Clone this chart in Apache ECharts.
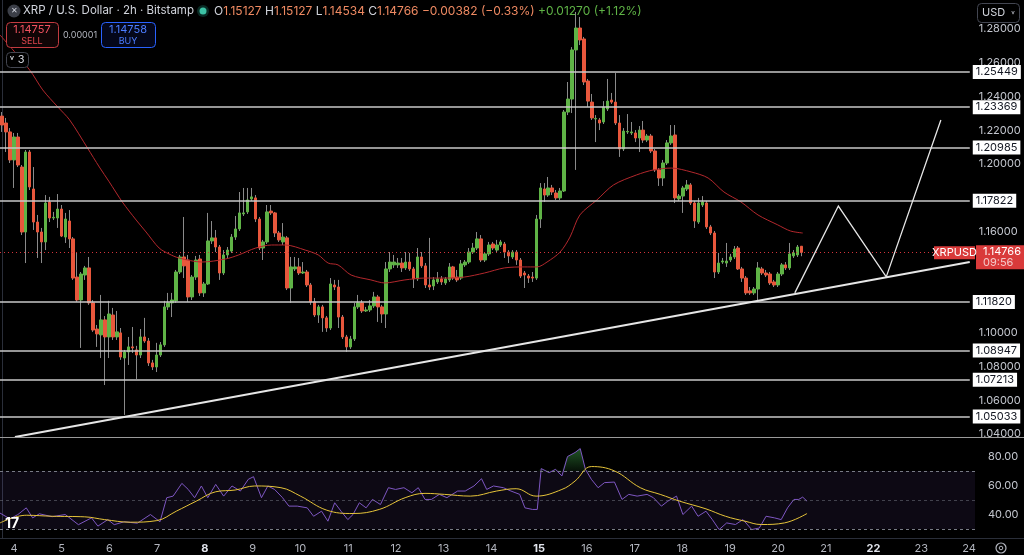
<!DOCTYPE html>
<html>
<head>
<meta charset="utf-8">
<title>XRP / U.S. Dollar 2h</title>
<script src="https://cdn.jsdelivr.net/npm/echarts@6/dist/echarts.min.js"></script>
<style>
  html, body { margin: 0; padding: 0; background: #000; }
  #chart { width: 1024px; height: 555px; }
</style>
</head>
<body>
<div id="chart"></div>
<script>
// 2h candles: [open, close, low, high]
const candles = [
  [1.2284,1.2231,1.2190,1.2308],[1.2243,1.2190,1.2071,1.2273],[1.2190,1.2024,1.2006,1.2213],[1.2024,1.2160,1.1858,1.2184],
  [1.2160,1.1994,1.1982,1.2184],[1.1982,1.1597,1.1579,1.1994],[1.1597,1.2071,1.1413,1.2083],[1.2071,1.1864,1.1846,1.2083],
  [1.1852,1.1656,1.1609,1.1982],[1.1656,1.1597,1.1443,1.1698],[1.1597,1.1538,1.1413,1.1621],[1.1538,1.1769,1.1490,1.1816],
  [1.1775,1.1680,1.1656,1.1805],[1.1680,1.1684,1.1668,1.1716],[1.1680,1.1733,1.1621,1.1822],[1.1733,1.1573,1.1567,1.1757],
  [1.1567,1.1674,1.1532,1.1710],[1.1662,1.1556,1.1502,1.1727],[1.1556,1.1324,1.1313,1.1567],[1.1330,1.1194,1.1183,1.1473],
  [1.1194,1.1348,1.0910,1.1360],[1.1342,1.1384,1.1313,1.1396],[1.1384,1.1177,1.1165,1.1449],[1.1177,1.1016,1.1005,1.1194],
  [1.1022,1.0993,1.0916,1.1046],[1.0987,1.1076,1.0850,1.1224],[1.1076,1.0975,1.0690,1.1099],[1.0975,1.1111,1.0850,1.1189],
  [1.1105,1.0975,1.0957,1.1147],[1.0975,1.1005,1.0957,1.1129],[1.0999,1.0856,1.0839,1.1028],[1.0850,1.0886,1.0513,1.0898],
  [1.0886,1.0916,1.0809,1.0975],[1.0916,1.0910,1.0880,1.1034],[1.0898,1.0868,1.0726,1.0922],[1.0868,1.0975,1.0850,1.1022],
  [1.0975,1.0951,1.0940,1.1088],[1.0951,1.0821,1.0803,1.0969],[1.0821,1.0797,1.0779,1.0839],[1.0797,1.0868,1.0767,1.0940],
  [1.0868,1.0928,1.0856,1.0945],[1.0928,1.1153,1.0916,1.1189],[1.1153,1.1177,1.1135,1.1236],[1.1177,1.1194,1.1093,1.1236],
  [1.1189,1.1360,1.1177,1.1372],[1.1360,1.1449,1.1348,1.1461],[1.1449,1.1396,1.1324,1.1686],[1.1431,1.1212,1.1183,1.1461],
  [1.1212,1.1330,1.1194,1.1342],[1.1330,1.1431,1.1313,1.1455],[1.1437,1.1236,1.1218,1.1461],[1.1236,1.1289,1.1212,1.1301],
  [1.1289,1.1544,1.1283,1.1710],[1.1544,1.1562,1.1526,1.1662],[1.1562,1.1508,1.1478,1.1609],[1.1508,1.1354,1.1313,1.1520],
  [1.1354,1.1461,1.1342,1.1490],[1.1461,1.1490,1.1443,1.1508],[1.1484,1.1567,1.1473,1.1585],[1.1567,1.1615,1.1550,1.1692],
  [1.1615,1.1710,1.1603,1.1834],[1.1704,1.1710,1.1692,1.1858],[1.1716,1.1787,1.1704,1.1858],[1.1793,1.1805,1.1781,1.1858],
  [1.1799,1.1674,1.1656,1.1816],[1.1674,1.1502,1.1490,1.1686],[1.1502,1.1538,1.1431,1.1550],[1.1538,1.1716,1.1526,1.1757],
  [1.1721,1.1710,1.1698,1.1757],[1.1710,1.1591,1.1567,1.1716],[1.1591,1.1550,1.1538,1.1603],[1.1538,1.1567,1.1520,1.1650],
  [1.1562,1.1265,1.1253,1.1573],[1.1265,1.1390,1.1177,1.1449],[1.1378,1.1390,1.1366,1.1449],[1.1390,1.1354,1.1342,1.1443],
  [1.1354,1.1360,1.1348,1.1419],[1.1360,1.1283,1.1271,1.1372],[1.1283,1.1183,1.1165,1.1295],[1.1183,1.1105,1.1093,1.1206],
  [1.1105,1.1153,1.1058,1.1165],[1.1153,1.1088,1.1005,1.1165],[1.1088,1.1028,1.1005,1.1099],[1.1028,1.1289,1.1016,1.1324],
  [1.1283,1.1271,1.1253,1.1313],[1.1271,1.1093,1.1028,1.1313],[1.1093,1.0975,1.0963,1.1105],[1.0975,1.0916,1.0886,1.0987],
  [1.0916,1.0963,1.0904,1.0981],[1.0963,1.1153,1.0951,1.1177],[1.1153,1.1177,1.1141,1.1224],[1.1177,1.1129,1.1117,1.1194],
  [1.1129,1.1135,1.1123,1.1153],[1.1135,1.1159,1.1123,1.1194],[1.1159,1.1212,1.1147,1.1242],[1.1212,1.1153,1.1064,1.1224],
  [1.1153,1.1111,1.1058,1.1165],[1.1111,1.1378,1.1028,1.1419],[1.1378,1.1419,1.1360,1.1478],[1.1402,1.1419,1.1384,1.1461],
  [1.1402,1.1413,1.1384,1.1443],[1.1413,1.1384,1.1360,1.1443],[1.1384,1.1419,1.1372,1.1478],[1.1419,1.1378,1.1366,1.1473],
  [1.1378,1.1319,1.1265,1.1390],[1.1319,1.1449,1.1307,1.1502],[1.1449,1.1396,1.1384,1.1478],[1.1396,1.1283,1.1265,1.1413],
  [1.1283,1.1271,1.1253,1.1562],[1.1277,1.1313,1.1253,1.1330],[1.1301,1.1319,1.1289,1.1360],[1.1319,1.1301,1.1283,1.1336],
  [1.1295,1.1319,1.1283,1.1330],[1.1313,1.1390,1.1301,1.1413],[1.1390,1.1324,1.1313,1.1396],[1.1330,1.1313,1.1301,1.1372],
  [1.1324,1.1408,1.1313,1.1431],[1.1402,1.1419,1.1390,1.1431],[1.1419,1.1478,1.1408,1.1502],[1.1478,1.1502,1.1467,1.1532],
  [1.1502,1.1556,1.1490,1.1597],[1.1556,1.1431,1.1419,1.1579],[1.1431,1.1467,1.1419,1.1478],[1.1467,1.1520,1.1455,1.1538],
  [1.1526,1.1502,1.1490,1.1538],[1.1490,1.1520,1.1478,1.1550],[1.1520,1.1538,1.1508,1.1550],[1.1526,1.1478,1.1443,1.1538],
  [1.1478,1.1455,1.1413,1.1490],[1.1449,1.1478,1.1437,1.1490],[1.1478,1.1431,1.1402,1.1490],[1.1431,1.1336,1.1324,1.1443],
  [1.1354,1.1342,1.1265,1.1366],[1.1336,1.1324,1.1295,1.1348],[1.1330,1.1324,1.1301,1.1360],[1.1324,1.1674,1.1313,1.1698],
  [1.1674,1.1858,1.1621,1.1887],[1.1852,1.1816,1.1775,1.1887],[1.1816,1.1858,1.1805,1.1923],[1.1858,1.1834,1.1816,1.1876],
  [1.1828,1.1799,1.1787,1.1846],[1.1799,1.1840,1.1787,1.1858],[1.1840,1.2308,1.1834,1.2320],[1.2308,1.2385,1.2290,1.2486],
  [1.2385,1.2676,1.2302,1.2693],[1.2676,1.2806,1.1965,1.2901],[1.2806,1.2735,1.2705,1.2871],[1.2741,1.2486,1.2468,1.2753],
  [1.2492,1.2373,1.2338,1.2504],[1.2367,1.2273,1.2261,1.2415],[1.2267,1.2270,1.2130,1.2290],[1.2261,1.2243,1.2201,1.2273],
  [1.2249,1.2338,1.2237,1.2373],[1.2326,1.2373,1.2314,1.2504],[1.2379,1.2367,1.2356,1.2421],[1.2367,1.2243,1.2231,1.2539],
  [1.2243,1.2089,1.2042,1.2290],[1.2089,1.2195,1.2077,1.2213],[1.2190,1.2193,1.2178,1.2296],[1.2184,1.2190,1.2172,1.2249],
  [1.2184,1.2154,1.2130,1.2201],[1.2154,1.2201,1.2071,1.2225],[1.2201,1.2142,1.2125,1.2255],[1.2142,1.2166,1.2130,1.2178],
  [1.2166,1.2077,1.2065,1.2178],[1.2077,1.1965,1.1953,1.2089],[1.1965,1.1917,1.1870,1.1976],[1.1917,1.2006,1.1870,1.2024],
  [1.2006,1.2125,1.1994,1.2142],[1.2125,1.2166,1.2113,1.2231],[1.2172,1.1799,1.1769,1.2231],[1.1793,1.1810,1.1781,1.1822],
  [1.1810,1.1858,1.1710,1.1870],[1.1852,1.1876,1.1840,1.1905],[1.1876,1.1769,1.1757,1.1887],[1.1769,1.1662,1.1621,1.1781],
  [1.1656,1.1769,1.1645,1.1799],[1.1757,1.1775,1.1745,1.1810],[1.1769,1.1627,1.1615,1.1781],[1.1627,1.1591,1.1579,1.1639],
  [1.1591,1.1360,1.1324,1.1603],[1.1360,1.1413,1.1348,1.1473],[1.1419,1.1425,1.1408,1.1443],[1.1413,1.1425,1.1390,1.1532],
  [1.1431,1.1449,1.1419,1.1467],[1.1449,1.1496,1.1437,1.1514],[1.1502,1.1378,1.1372,1.1514],[1.1378,1.1324,1.1301,1.1390],
  [1.1324,1.1236,1.1224,1.1336],[1.1248,1.1236,1.1224,1.1271],[1.1236,1.1259,1.1224,1.1271],[1.1259,1.1384,1.1183,1.1419],
  [1.1378,1.1354,1.1342,1.1390],[1.1354,1.1342,1.1330,1.1372],[1.1348,1.1295,1.1283,1.1360],[1.1301,1.1283,1.1271,1.1313],
  [1.1283,1.1348,1.1271,1.1360],[1.1348,1.1402,1.1336,1.1413],[1.1402,1.1384,1.1372,1.1419],[1.1384,1.1467,1.1372,1.1532],
  [1.1455,1.1473,1.1443,1.1490],[1.1461,1.1508,1.1449,1.1520],[1.15127,1.14766,1.14534,1.15127]
]

// moving average on price: [bar index, value]
const maLine = [
  [-0.5,1.2765],[7.0,1.2557],[10.3,1.2439],[14.1,1.2338],[17.1,1.2261],[21.6,1.2095],[24.6,1.1982],[27.1,1.1894],
  [30.4,1.1775],[33.9,1.1668],[36.4,1.1597],[39.7,1.1502],[42.2,1.1467],[44.7,1.1443],[50.5,1.1419],[56.5,1.1437],
  [59.8,1.1461],[64.1,1.1502],[68.1,1.1520],[71.6,1.1520],[76.6,1.1490],[79.9,1.1461],[82.4,1.1413],[84.9,1.1402],
  [88.2,1.1342],[93.2,1.1313],[96.7,1.1295],[101.8,1.1313],[106.8,1.1324],[111.8,1.1324],[116.8,1.1330],[121.9,1.1354],
  [126.9,1.1384],[131.9,1.1390],[135.2,1.1390],[137.7,1.1419],[141.0,1.1478],[143.5,1.1567],[146.0,1.1698],[150.3,1.1787],
  [154.5,1.1876],[160.3,1.1935],[164.6,1.1965],[169.1,1.1976],[174.1,1.1953],[178.4,1.1917],[182.4,1.1834],[186.7,1.1775],
  [191.0,1.1698],[196.0,1.1639],[199.2,1.1603],[202.3,1.1591]
]

// RSI and its moving average: [bar index, value]
const rsi = [
  [-0.5,41],[2,37],[4,40],[6.1,44.6],[7.7,37.7],[9.4,40.5],[12.6,38.5],[15.9,40],[19.2,33],[22.5,37.7],[24.1,32],
  [26.6,36.5],[28.2,33],[30.7,35],[34.0,34],[37.3,40],[39.7,35],[41.4,51.6],[43.0,52.7],[45.2,61.5],[46.8,57.3],
  [48.4,51.6],[50.1,59.7],[51.7,51.6],[53.7,60.8],[55.7,52.7],[57.8,59.7],[59.9,56.2],[61.9,64.3],[63.2,66.1],
  [65.2,51.6],[66.8,59.7],[68.5,57.3],[70.5,51.6],[72.1,45.8],[74.2,45.8],[76.7,44.6],[78.3,38.8],[80.3,42.3],
  [81.9,35.4],[83.6,48.1],[85.2,42.3],[86.9,36.5],[88.2,40],[89.8,48.1],[91.5,44.6],[93.1,50.4],[95.1,46.9],
  [97.1,58.5],[98.9,57.3],[101.0,58.5],[103.0,55],[104.6,58.5],[106.3,50.4],[107.9,50.4],[109.9,53.9],[111.8,51.6],
  [114.5,56.2],[116.4,56.2],[118.6,59.7],[120.5,64.7],[121.8,57.3],[123.5,59.7],[126.0,58.5],[127.9,56.2],[130.1,53.9],
  [131.4,44.6],[133.3,43.5],[134.5,43.5],[135.5,71.7],[137.5,68.9],[139.1,71.2],[140.7,66.6],[142.1,80],[144.0,82.8],
  [145.3,85.5],[146.6,71.2],[148.1,64.3],[149.8,58.5],[151.4,62],[153.9,62.4],[155.8,50.4],[157.5,53.9],[159.6,52.7],
  [162.1,53.9],[163.7,51.6],[165.7,45.8],[167.3,49.2],[169.5,52.7],[171.1,40],[173.3,45.8],[174.9,38.8],[176.9,42.3],
  [178.5,36.5],[180.2,29.6],[182.1,34.2],[184.3,33.1],[186.2,36.5],[188.4,29.6],[190.3,30.7],[192.0,38.8],[194.1,37.7],
  [195.8,36.5],[197.4,44.6],[199.0,50.4],[200.2,50.4],[201.2,52],[202.3,49.2]
]
const rsiMa = [
  [-0.5,34.2],[6.1,39.5],[12.6,38.8],[20.8,38.4],[25.8,36.5],[32.3,34.7],[38.9,35.8],[43.8,42.3],[48.8,49.2],
  [53.7,55.7],[58.6,56.9],[63.5,59.7],[70.1,58.5],[75.0,52.7],[81.6,43],[88.2,40.7],[94.8,43.5],[101.3,51.6],
  [106.3,54.6],[111.2,53.9],[117.7,52.7],[124.3,56.2],[129.2,57.8],[134.2,52.7],[140.7,57.3],[144.0,63.1],
  [148.1,73.1],[153.9,70.1],[160.4,58.5],[165.4,53.9],[170.3,49.2],[176.9,43.9],[181.8,38.8],[186.7,35.4],
  [190.8,33.1],[196.6,34.2],[202.3,40.7]
]

const levels = [1.25449, 1.23369, 1.20985, 1.17822, 1.11820, 1.08947, 1.07213, 1.05033]
const lastPrice = 1.14766
// 1.12, 1.14 and 1.18 are hidden behind the level and price tags in the picture
const priceTicks = [1.04, 1.06, 1.08, 1.10, 1.16, 1.20, 1.22, 1.24, 1.26, 1.28]
const rsiTicks = [40, 60, 80]
const days = [4, 5, 6, 7, 8, 9, 10, 11, 12, 13, 14, 15, 16, 17, 18, 19, 20, 21, 22, 23, 24]
const boldDays = [8, 15, 22]
const trendLine = [[3.27, 1.0382], [244.5, 1.1419]]
const projection = [[200.3, 1.1236], [211.3, 1.1751], [223.4, 1.1331], [237.2, 1.2261]]

const SLOTS = 245
const FONT = 'Inter, Roboto, sans-serif'
const UP = '#5fb346'
const DOWN = '#e8573c'

let slots = []
for (let i = 0; i < SLOTS; i++) slots.push(i)
let dayIdx = days.map(d => 3 + (d - 4) * 12)
let bodies = candles.map(c => [c[0], c[1], Math.min(c[0], c[1]), Math.max(c[0], c[1])])
let obFill = rsi.map(p => [p[0], Math.max(p[1], 70)])

let myChart = echarts.init(document.getElementById('chart'))
myChart.setOption({
    animation: false,
    backgroundColor: '#000',
    textStyle: { fontFamily: FONT },
    grid: [
        { left: 0, top: 0, width: 975, height: 437 },
        { left: 0, top: 438, width: 975, height: 100 }
    ],
    xAxis: [
        { type: 'category', gridIndex: 0, data: slots, show: false },
        { type: 'value', gridIndex: 0, min: -0.5, max: SLOTS - 0.5, show: false },
        {
            type: 'value', gridIndex: 1, min: -0.5, max: SLOTS - 0.5,
            axisLine: { show: false }, axisTick: { show: false }, splitLine: { show: false },
            axisLabel: {
                customValues: dayIdx,
                margin: 5,
                fontSize: 11,
                color: '#b2b5be',
                formatter: v => {
                    let d = Math.round(4 + (v - 3) / 12)
                    return boldDays.indexOf(d) >= 0 ? '{b|' + d + '}' : String(d)
                },
                rich: { b: { fontWeight: 'bold', color: '#e0e3eb', fontSize: 11 } }
            }
        }
    ],
    yAxis: [
        {
            type: 'value', gridIndex: 0, position: 'right', min: 1.0382, max: 1.2972,
            splitLine: { show: false }, axisTick: { show: false },
            axisLine: { show: true, lineStyle: { color: '#2a2e39' } },
            axisLabel: { customValues: priceTicks, formatter: v => v.toFixed(5), color: '#c3c6ce', fontSize: 11, margin: 9 }
        },
        {
            type: 'value', gridIndex: 1, position: 'right', min: 23.8, max: 92.8,
            splitLine: { show: false }, axisTick: { show: false },
            axisLine: { show: true, lineStyle: { color: '#2a2e39' } },
            axisLabel: { customValues: rsiTicks, formatter: v => v.toFixed(2), color: '#c3c6ce', fontSize: 11, margin: 13 }
        }
    ],
    series: [
        {
            // wicks
            type: 'candlestick', xAxisIndex: 0, yAxisIndex: 0, barWidth: 1, data: candles,
            itemStyle: { color: '#8a8a8a', color0: '#8a8a8a', borderColor: '#8a8a8a', borderColor0: '#8a8a8a', borderWidth: 1 }
        },
        {
            // bodies
            type: 'candlestick', xAxisIndex: 0, yAxisIndex: 0, barWidth: 3, data: bodies, z: 3,
            itemStyle: { color: UP, color0: DOWN, borderColor: UP, borderColor0: DOWN, borderWidth: 1 }
        },
        {
            name: 'MA', type: 'line', xAxisIndex: 1, yAxisIndex: 0, data: maLine, smooth: 0.3,
            symbol: 'none', z: 4, lineStyle: { color: '#b3282d', width: 1 },
            markLine: {
                silent: true, symbol: ['none', 'none'], z: 5, precision: 5,
                lineStyle: { color: '#c9c9c9', width: 1.5, type: 'solid' },
                label: {
                    show: true, position: 'end', distance: 3,
                    formatter: p => Number(p.value).toFixed(5),
                    color: '#131722', backgroundColor: '#ffffff', padding: [2, 3, 1, 3], fontSize: 11
                },
                data: levels.map(v => ({ yAxis: v }))
            }
        },
        {
            name: 'trend', type: 'line', xAxisIndex: 1, yAxisIndex: 0, data: trendLine,
            symbol: 'none', z: 6, lineStyle: { color: '#e6e6e6', width: 2 },
            markLine: {
                silent: true, symbol: ['none', 'none'], precision: 5,
                lineStyle: { color: '#d2343b', width: 1, type: [1, 3] },
                label: { show: false },
                data: [{ yAxis: lastPrice }]
            }
        },
        {
            name: 'projection', type: 'lines', coordinateSystem: 'cartesian2d', xAxisIndex: 1, yAxisIndex: 0,
            polyline: true, z: 6, symbol: ['none', 'arrow'], symbolSize: 7,
            lineStyle: { color: '#e6e6e6', width: 1.3, opacity: 1 },
            data: [{ coords: projection }]
        },
        {
            name: 'RSI', type: 'line', xAxisIndex: 2, yAxisIndex: 1, data: rsi,
            symbol: 'none', z: 4, lineStyle: { color: '#7e57c2', width: 1 },
            markArea: {
                silent: true,
                itemStyle: { color: 'rgba(126,87,194,0.1)' },
                data: [[{ yAxis: 30 }, { yAxis: 70 }]]
            },
            markLine: {
                silent: true, symbol: ['none', 'none'],
                lineStyle: { color: '#787b86', width: 1, type: [3, 3] },
                label: { show: false },
                data: [{ yAxis: 70 }, { yAxis: 50, lineStyle: { opacity: 0.5 } }, { yAxis: 30 }]
            }
        },
        {
            name: 'overbought', type: 'line', xAxisIndex: 2, yAxisIndex: 1, data: obFill,
            symbol: 'none', z: 3, lineStyle: { width: 0 },
            areaStyle: {
                origin: 70,
                color: new echarts.graphic.LinearGradient(0, 0, 0, 1, [
                    { offset: 0, color: 'rgba(60,160,70,0.75)' },
                    { offset: 1, color: 'rgba(60,160,70,0.15)' }
                ])
            }
        },
        {
            name: 'RSI MA', type: 'line', xAxisIndex: 2, yAxisIndex: 1, data: rsiMa, smooth: 0.4,
            symbol: 'none', z: 5, lineStyle: { color: '#e6c43a', width: 1 }
        }
    ]
})

// header, buttons and price tag
let py = myChart.convertToPixel({ yAxisIndex: 0 }, lastPrice)
let txt = (text, x, y, size, fill, extra) => ({
    type: 'text', x: x, y: y, z: 20,
    style: Object.assign({ text: text, fontSize: size, fontFamily: FONT, fill: fill, verticalAlign: 'middle' }, extra || {})
})
let box = (x, y, w, h, stroke, fill) => ({
    type: 'rect', z: 19, shape: { x: x, y: y, width: w, height: h, r: 4 },
    style: { stroke: stroke, fill: fill, lineWidth: 1 }
})

myChart.setOption({
    graphic: [
        { type: 'line', z: 18, shape: { x1: 0, y1: 437.5, x2: 1024, y2: 437.5 }, style: { stroke: '#9a9a9a', lineWidth: 1 } },
        { type: 'line', z: 18, shape: { x1: 0, y1: 538.5, x2: 1024, y2: 538.5 }, style: { stroke: '#2a2e39', lineWidth: 1 } },

        { type: 'circle', z: 19, shape: { cx: 14, cy: 11, r: 6.5 }, style: { fill: '#3b3e47' } },
        txt('✕', 14, 11, 8, '#d1d4dc', { align: 'center' }),
        txt('XRP / U.S. Dollar · 2h · Bitstamp', 23, 11, 11.5, '#d1d4dc'),
        { type: 'circle', z: 19, shape: { cx: 203, cy: 11, r: 6 }, style: { fill: 'rgba(34,171,148,0.25)' } },
        { type: 'circle', z: 20, shape: { cx: 203, cy: 11, r: 3.5 }, style: { fill: '#3cc2a5' } },
        txt('{l|O}{v|1.15127} {l|H}{v|1.15127} {l|L}{v|1.14534} {l|C}{v|1.14766} {v|−0.00382 (−0.33%)} {g|+0.01270 (+1.12%)}',
            214, 11, 12, '#d1d4dc', {
                rich: {
                    l: { fill: '#d1d4dc', fontSize: 12, fontFamily: FONT },
                    v: { fill: '#ef8a62', fontSize: 12, fontFamily: FONT },
                    g: { fill: '#5fb346', fontSize: 12, fontFamily: FONT }
                }
            }),

        box(6.5, 22.5, 52, 25, '#c23b40', '#0f0506'),
        txt('1.14757', 32, 30, 11, '#f0525f', { align: 'center' }),
        txt('SELL', 32, 41, 9, '#e0474f', { align: 'center' }),
        txt('0.00001', 80, 35, 9, '#b2b5be', { align: 'center' }),
        box(101.5, 22.5, 54, 25, '#2962ff', '#04071a'),
        txt('1.14758', 128, 30, 11, '#4c7dff', { align: 'center' }),
        txt('BUY', 128, 41, 9, '#4c7dff', { align: 'center' }),
        box(6.5, 52.5, 22, 15, '#434651', '#000'),
        txt('˅ 3', 17, 60, 11, '#d1d4dc', { align: 'center' }),

        box(977.5, 3.5, 42, 19, '#434651', '#000'),
        txt('USD', 982, 13, 11, '#d1d4dc'),
        txt('˅', 1011, 14, 9, '#b2b5be'),

        { type: 'rect', z: 19, shape: { x: 934, y: py - 6, width: 41, height: 13 }, style: { fill: '#d93a3a' } },
        txt('XRPUSD', 954.5, py + 0.5, 11, '#ffffff', { align: 'center' }),
        { type: 'rect', z: 19, shape: { x: 976, y: py - 7, width: 48, height: 24 }, style: { fill: '#d93a3a' } },
        txt('1.14766', 983, py - 0.5, 11, '#ffffff'),
        txt('09:56', 983, py + 10.5, 11, '#f3c9c9'),

        txt('17', 5, 524, 14, '#ffffff', { fontWeight: 'bold' }),
        { type: 'circle', z: 19, shape: { cx: 1001, cy: 548, r: 5 }, style: { fill: 'none', stroke: '#b2b5be', lineWidth: 1.2 } },
        { type: 'circle', z: 19, shape: { cx: 1001, cy: 548, r: 1.8 }, style: { fill: 'none', stroke: '#b2b5be', lineWidth: 1 } }
    ]
})

window.addEventListener('resize', function() {
    myChart.resize()
})
</script>
</body>
</html>
